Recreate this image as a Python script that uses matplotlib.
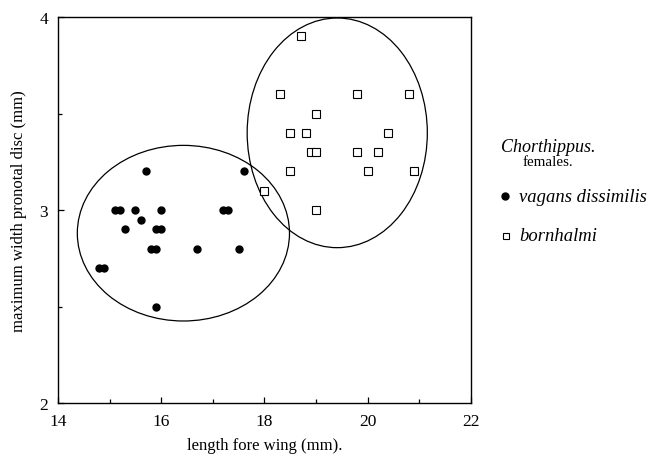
import matplotlib
matplotlib.use("Agg")
import matplotlib.pyplot as plt
from matplotlib.patches import Ellipse
from matplotlib.ticker import MultipleLocator

plt.rcParams['font.family'] = ['Liberation Serif', 'DejaVu Serif']

# vagans dissimilis (filled circles)
vag_x = [15.7, 17.6, 15.1, 15.2, 15.5, 16.0, 17.2, 17.3, 15.6, 15.3,
         15.9, 16.0, 15.8, 15.9, 16.7, 17.5, 14.8, 14.9, 15.9]
vag_y = [3.2, 3.2, 3.0, 3.0, 3.0, 3.0, 3.0, 3.0, 2.95, 2.9,
         2.9, 2.9, 2.8, 2.8, 2.8, 2.8, 2.7, 2.7, 2.5]

# bornhalmi (open squares)
born_x = [18.7, 18.3, 19.8, 20.8, 19.0, 18.5, 18.8, 20.4, 18.9, 19.0,
          19.8, 20.2, 18.5, 20.0, 20.9, 18.0, 19.0]
born_y = [3.9, 3.6, 3.6, 3.6, 3.5, 3.4, 3.4, 3.4, 3.3, 3.3,
          3.3, 3.3, 3.2, 3.2, 3.2, 3.1, 3.0]

# group ellipses: centre x, centre y, width, height
ell_vag = (16.43, 2.88, 4.11, 0.91)
ell_born = (19.41, 3.40, 3.49, 1.19)

fig = plt.figure(figsize=(6.55, 4.6), dpi=100)
ax = fig.add_axes([0.0885, 0.1217, 0.6305, 0.8391])

ax.plot(vag_x, vag_y, 'o', color='black', markersize=5, linestyle='none')
ax.plot(born_x, born_y, 's', markerfacecolor='white', markeredgecolor='black',
        markeredgewidth=0.8, markersize=5.5, linestyle='none')

for cx, cy, w, h in (ell_vag, ell_born):
    ax.add_patch(Ellipse((cx, cy), w, h, fill=False, edgecolor='black', linewidth=0.9))

ax.set_xlim(14, 22)
ax.set_ylim(2, 4)
ax.xaxis.set_major_locator(MultipleLocator(2))
ax.xaxis.set_minor_locator(MultipleLocator(1))
ax.yaxis.set_major_locator(MultipleLocator(1))
ax.yaxis.set_minor_locator(MultipleLocator(0.5))
ax.tick_params(which='both', direction='in', labelsize=12.5, width=0.9)
ax.tick_params(which='major', length=4)
ax.tick_params(axis='x', which='major', pad=7)
ax.tick_params(axis='y', which='major', pad=7)
ax.tick_params(which='minor', length=3)
for s in ax.spines.values():
    s.set_linewidth(1.0)

ax.set_xlabel('length fore wing (mm).', fontsize=12, labelpad=6)
ax.set_ylabel('maximum width pronotal disc (mm)', fontsize=12, labelpad=9)

# legend drawn as text in figure coords
fig.text(548 / 655, 1 - 148 / 460, 'Chorthippus.', style='italic', fontsize=13,
         ha='center', va='center')
fig.text(548 / 655, 1 - 163 / 460, 'females.', fontsize=10.8, ha='center', va='center')
fig.lines.append(plt.Line2D([505 / 655], [1 - 197 / 460], marker='o', color='black',
                            markersize=5, transform=fig.transFigure))
fig.text(519 / 655, 1 - 197 / 460, 'vagans dissimilis', style='italic', fontsize=13.4,
         ha='left', va='center')
fig.lines.append(plt.Line2D([506 / 655], [1 - 237 / 460], marker='s', markerfacecolor='white',
                            markeredgecolor='black', markeredgewidth=0.8, markersize=5,
                            transform=fig.transFigure))
fig.text(519 / 655, 1 - 237 / 460, 'bornhalmi', style='italic', fontsize=13.4,
         ha='left', va='center')

fig.savefig('out.png', dpi=100)
